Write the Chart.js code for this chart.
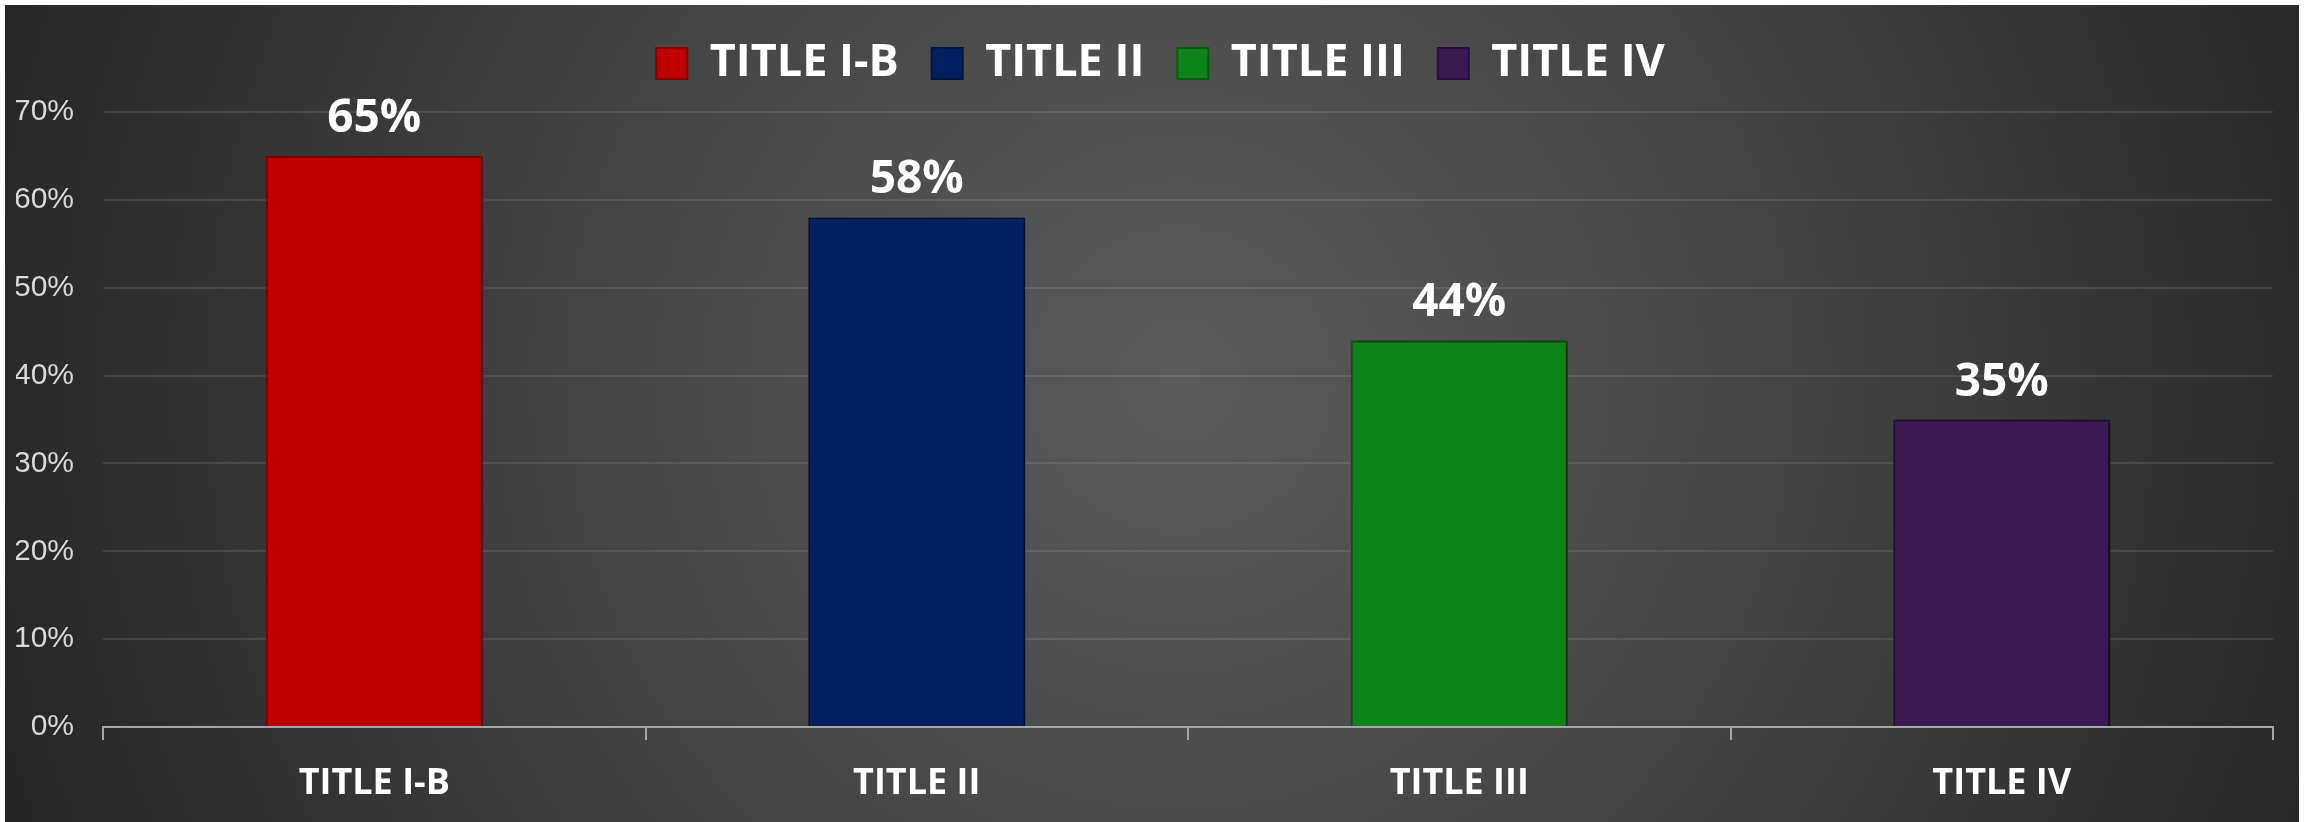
<!DOCTYPE html>
<html>
<head>
<meta charset="utf-8">
<script src="https://cdn.jsdelivr.net/npm/chart.js@4.4.1/dist/chart.umd.min.js"></script>
<style>
    html, body { margin: 0; padding: 0; background: #fff; overflow: hidden; }
    #wrap { position: absolute; left: 0; top: 0; width: 2313px; height: 822px; }
</style>
</head>
<body>
<div id="wrap"><canvas id="result-bar-chart"></canvas></div>
<script>
// Chart data
const categories = ['TITLE I-B', 'TITLE II', 'TITLE III', 'TITLE IV'];
const percentValues = [65, 58, 44, 35];
const barColors = ['#c00000', '#002060', '#0e8418', '#3b1952'];
const edgeColors = ['#8a0000', '#00163f', '#0a5a10', '#27103a'];
const yMax = 70;
const yStep = 10;

// Dark radial background panel (white frame around it like the original)
const backgroundPanel = {
    id: 'backgroundPanel',
    beforeDraw(chart) {
        const ctx = chart.ctx;
        ctx.save();
        const grad = ctx.createRadialGradient(1180, 380, 0, 1180, 380, 1350);
        grad.addColorStop(0, '#5b5b5b');
        grad.addColorStop(0.45, '#444444');
        grad.addColorStop(1, '#202020');
        ctx.fillStyle = grad;
        ctx.fillRect(5, 5, 2294, 817);
        ctx.restore();
    }
};

// Make the legend take a fixed amount of room above the plot,
// and nudge it a bit to the right like the original
const legendRoom = {
    id: 'legendRoom',
    beforeInit(chart) {
        const fit = chart.legend.fit;
        chart.legend.fit = function () {
            fit.bind(chart.legend)();
            this.height = 104;
        };
    },
    afterLayout(chart) {
        chart.legend.left += 16;
        chart.legend.right += 16;
    }
};

// Bar shadow + value labels on top of the bars
const barLabels = {
    id: 'barLabels',
    beforeDatasetsDraw(chart) {
        const ctx = chart.ctx;
        ctx.save();
        ctx.shadowColor = 'rgba(0, 0, 0, 0.55)';
        ctx.shadowBlur = 8;
        ctx.shadowOffsetX = 3;
        ctx.shadowOffsetY = 1;
    },
    afterDatasetsDraw(chart) {
        const ctx = chart.ctx;
        ctx.restore();
        const meta = chart.getDatasetMeta(0);
        ctx.save();
        ctx.fillStyle = '#ffffff';
        ctx.font = 'bold 46px "Open Sans"';
        ctx.textAlign = 'center';
        ctx.textBaseline = 'alphabetic';
        meta.data.forEach((bar, i) => {
            ctx.fillText(percentValues[i] + '%', bar.x, bar.y - 24);
        });
        ctx.restore();
    }
};

const ctx = document.getElementById('result-bar-chart').getContext('2d');
const barChart = new Chart(ctx, {
    type: 'bar',
    data: {
        labels: categories,
        datasets: [{
            label: 'Share',
            data: percentValues,
            backgroundColor: barColors,
            borderColor: edgeColors,
            borderWidth: 2,
            categoryPercentage: 1,
            barPercentage: 0.4,
        }],
    },
    options: {
        responsive: true,
        maintainAspectRatio: false,
        animation: false,
        layout: { padding: { top: 8, left: 16, right: 40, bottom: 0 } },
        scales: {
            x: {
                offset: true,
                grid: {
                    offset: true,
                    drawOnChartArea: false,
                    drawTicks: true,
                    tickLength: 13,
                    color: '#a6a6a6',
                    lineWidth: 2,
                },
                border: { display: true, color: '#a6a6a6', width: 2 },
                ticks: {
                    color: '#ffffff',
                    font: { family: 'Open Sans', weight: 'bold', size: 36 },
                    padding: 22,
                    maxRotation: 0,
                },
                afterFit: (scale) => { scale.height = 95; },
            },
            y: {
                min: 0,
                max: yMax,
                ticks: {
                    stepSize: yStep,
                    callback: (v) => v + '%',
                    color: '#d9d9d9',
                    font: { family: 'Liberation Sans', size: 30 },
                    padding: 29,
                },
                grid: { color: 'rgba(255, 255, 255, 0.1)', lineWidth: 2, drawTicks: false },
                border: { display: false },
                afterFit: (scale) => { scale.width = 87; },
            },
        },
        plugins: {
            legend: {
                position: 'top',
                align: 'center',
                onClick: null,
                labels: {
                    boxWidth: 31,
                    boxHeight: 31,
                    padding: 33,
                    color: '#ffffff',
                    font: { family: 'Open Sans', weight: 'bold', size: 45 },
                    generateLabels: (chart) => categories.map((name, i) => ({
                        text: name,
                        fillStyle: barColors[i],
                        strokeStyle: edgeColors[i],
                        lineWidth: 2,
                        fontColor: '#ffffff',
                        hidden: false,
                        index: i,
                    })),
                },
            },
            tooltip: { enabled: false },
        },
    },
    plugins: [backgroundPanel, legendRoom, barLabels],
});
</script>
</body>
</html>
